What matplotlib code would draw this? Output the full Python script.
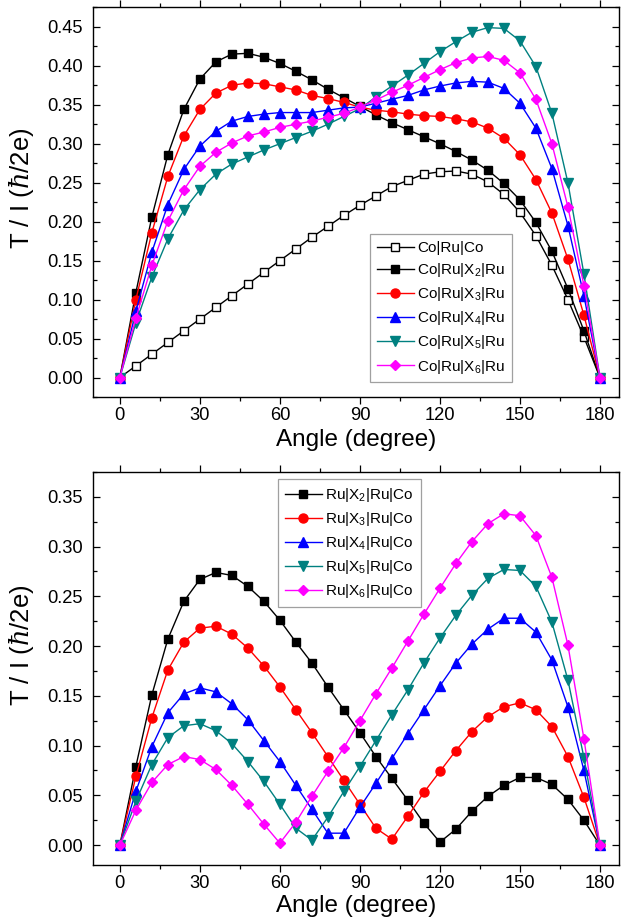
import numpy as np
import matplotlib
matplotlib.use("Agg")
import matplotlib.pyplot as plt
from matplotlib.ticker import MultipleLocator

plt.rcParams['font.family'] = ['Liberation Sans', 'DejaVu Sans']
plt.rcParams['mathtext.fontset'] = 'custom'
plt.rcParams['mathtext.rm'] = 'Liberation Sans'
plt.rcParams['mathtext.it'] = 'DejaVu Serif:italic'

angle = list(range(0, 181, 6))

# ---- top panel data ----
co_ru_co = [0, 0.015, 0.030, 0.045, 0.060, 0.075, 0.090, 0.105, 0.120, 0.135, 0.150,
            0.165, 0.180, 0.194, 0.208, 0.221, 0.233, 0.245, 0.253, 0.261, 0.264,
            0.265, 0.261, 0.251, 0.235, 0.212, 0.182, 0.144, 0.100, 0.052, 0]
co_x2 = [0, 0.109, 0.206, 0.286, 0.344, 0.383, 0.405, 0.415, 0.416, 0.411, 0.403,
         0.393, 0.382, 0.370, 0.359, 0.348, 0.337, 0.327, 0.318, 0.309, 0.300,
         0.290, 0.279, 0.266, 0.249, 0.228, 0.199, 0.162, 0.114, 0.060, 0]
co_x3 = [0, 0.100, 0.186, 0.258, 0.310, 0.344, 0.365, 0.375, 0.378, 0.377, 0.373,
         0.369, 0.362, 0.358, 0.353, 0.347, 0.343, 0.341, 0.338, 0.336, 0.335,
         0.332, 0.328, 0.320, 0.307, 0.286, 0.254, 0.211, 0.152, 0.080, 0]
co_x4 = [0, 0.085, 0.161, 0.222, 0.267, 0.297, 0.316, 0.329, 0.335, 0.338, 0.340,
         0.340, 0.340, 0.343, 0.346, 0.347, 0.352, 0.357, 0.362, 0.369, 0.374,
         0.378, 0.380, 0.379, 0.371, 0.352, 0.320, 0.268, 0.195, 0.105, 0]
co_x5 = [0, 0.070, 0.129, 0.178, 0.215, 0.241, 0.261, 0.274, 0.283, 0.292, 0.300,
         0.308, 0.316, 0.325, 0.335, 0.345, 0.360, 0.374, 0.388, 0.403, 0.418,
         0.431, 0.443, 0.449, 0.448, 0.432, 0.399, 0.339, 0.250, 0.133, 0]
co_x6 = [0, 0.076, 0.144, 0.201, 0.241, 0.271, 0.289, 0.301, 0.310, 0.315, 0.321,
         0.325, 0.329, 0.334, 0.339, 0.347, 0.356, 0.366, 0.375, 0.385, 0.395,
         0.404, 0.410, 0.412, 0.407, 0.391, 0.357, 0.300, 0.219, 0.118, 0]

# ---- bottom panel data ----
ru_x2 = [0, 0.079, 0.151, 0.207, 0.245, 0.267, 0.274, 0.271, 0.260, 0.245, 0.226,
         0.204, 0.183, 0.159, 0.136, 0.113, 0.089, 0.067, 0.045, 0.022, 0.003,
         0.016, 0.034, 0.049, 0.060, 0.068, 0.068, 0.061, 0.046, 0.025, 0]
ru_x3 = [0, 0.069, 0.128, 0.176, 0.204, 0.218, 0.220, 0.212, 0.198, 0.180, 0.159,
         0.136, 0.113, 0.089, 0.065, 0.041, 0.017, 0.006, 0.029, 0.053, 0.074,
         0.095, 0.114, 0.129, 0.139, 0.143, 0.136, 0.119, 0.089, 0.048, 0]
ru_x4 = [0, 0.054, 0.099, 0.133, 0.152, 0.158, 0.154, 0.142, 0.126, 0.105, 0.084,
         0.060, 0.036, 0.012, 0.012, 0.038, 0.062, 0.087, 0.112, 0.136, 0.160,
         0.183, 0.202, 0.217, 0.228, 0.228, 0.214, 0.186, 0.139, 0.075, 0]
ru_x5 = [0, 0.044, 0.081, 0.108, 0.120, 0.122, 0.115, 0.102, 0.084, 0.064, 0.041,
         0.017, 0.005, 0.028, 0.054, 0.079, 0.105, 0.131, 0.156, 0.183, 0.208,
         0.231, 0.251, 0.268, 0.277, 0.276, 0.260, 0.224, 0.166, 0.088, 0]
ru_x6 = [0, 0.035, 0.063, 0.081, 0.089, 0.086, 0.076, 0.060, 0.041, 0.021, 0.002,
         0.023, 0.049, 0.074, 0.098, 0.125, 0.152, 0.178, 0.205, 0.232, 0.258,
         0.283, 0.305, 0.323, 0.333, 0.331, 0.311, 0.269, 0.201, 0.107, 0]

top_labels = ['Co|Ru|Co', 'Co|Ru|X$_2$|Ru', 'Co|Ru|X$_3$|Ru', 'Co|Ru|X$_4$|Ru',
              'Co|Ru|X$_5$|Ru', 'Co|Ru|X$_6$|Ru']
bot_labels = ['Ru|X$_2$|Ru|Co', 'Ru|X$_3$|Ru|Co', 'Ru|X$_4$|Ru|Co',
              'Ru|X$_5$|Ru|Co', 'Ru|X$_6$|Ru|Co']

colors = ['black', '#FF0000', '#0000FF', '#008080', '#FF00FF']
markers = ['s', 'o', '^', 'v', 'D']
msizes = [6.0, 6.5, 7.0, 7.0, 5.5]

fig = plt.figure(figsize=(6.26, 9.18), dpi=100)
ax1 = fig.add_axes([0.148, 0.5675, 0.841, 0.4245])
ax2 = fig.add_axes([0.148, 0.0577, 0.841, 0.4282])


def style(ax, ylim, ymaj, xlab_y, ylab_y):
    ax.set_xlim(-10.2, 187.2)
    ax.set_ylim(*ylim)
    ax.xaxis.set_major_locator(MultipleLocator(30))
    ax.xaxis.set_minor_locator(MultipleLocator(15))
    ax.yaxis.set_major_locator(MultipleLocator(ymaj))
    ax.yaxis.set_minor_locator(MultipleLocator(ymaj / 2))
    ax.yaxis.set_major_formatter(matplotlib.ticker.FormatStrFormatter('%.2f'))
    ax.tick_params(axis='both', which='both', direction='in', top=True, right=True,
                   labelsize=13.2, width=0.9)
    ax.tick_params(axis='x', which='both', bottom=True, direction='out', pad=2)
    ax.tick_params(axis='y', which='both', pad=7)
    ax.tick_params(which='major', length=5)
    ax.tick_params(which='minor', length=3)
    for s in ax.spines.values():
        s.set_linewidth(1.0)
    ax.set_xlabel('Angle (degree)', fontsize=17.5, va='center')
    ax.set_ylabel(r'T / I ($\hbar$/2e)', fontsize=18.5, va='center')
    ax.xaxis.set_label_coords(0.5, xlab_y)
    ax.yaxis.set_label_coords(-0.135, ylab_y)


leg_kw = dict(fontsize=11, frameon=True, fancybox=False, edgecolor='#888888',
              handlelength=2.4, handletextpad=0.25, borderpad=0.45, labelspacing=0.4,
              borderaxespad=0)

# top panel
ax1.plot(angle, co_ru_co, color='black', marker='s', ms=6.0, mfc='white',
         mec='black', lw=1.0, label=top_labels[0])
for vals, c, m, ms, lab in zip([co_x2, co_x3, co_x4, co_x5, co_x6], colors, markers,
                               msizes, top_labels[1:]):
    ax1.plot(angle, vals, color=c, marker=m, ms=ms, mfc=c, mec=c, lw=1.0, label=lab)
style(ax1, (-0.025, 0.475), 0.05, -0.110, 0.536)
leg1 = ax1.legend(loc='upper left', bbox_to_anchor=(0.527, 0.418), **leg_kw)
leg1.get_frame().set_linewidth(0.9)

# bottom panel
for vals, c, m, ms, lab in zip([ru_x2, ru_x3, ru_x4, ru_x5, ru_x6], colors, markers,
                               msizes, bot_labels):
    ax2.plot(angle, vals, color=c, marker=m, ms=ms, mfc=c, mec=c, lw=1.0, label=lab)
style(ax2, (-0.02, 0.375), 0.05, -0.104, 0.56)
leg2 = ax2.legend(loc='upper left', bbox_to_anchor=(0.352, 0.982), **leg_kw)
leg2.get_frame().set_linewidth(0.9)

fig.savefig('out.png', dpi=100)
